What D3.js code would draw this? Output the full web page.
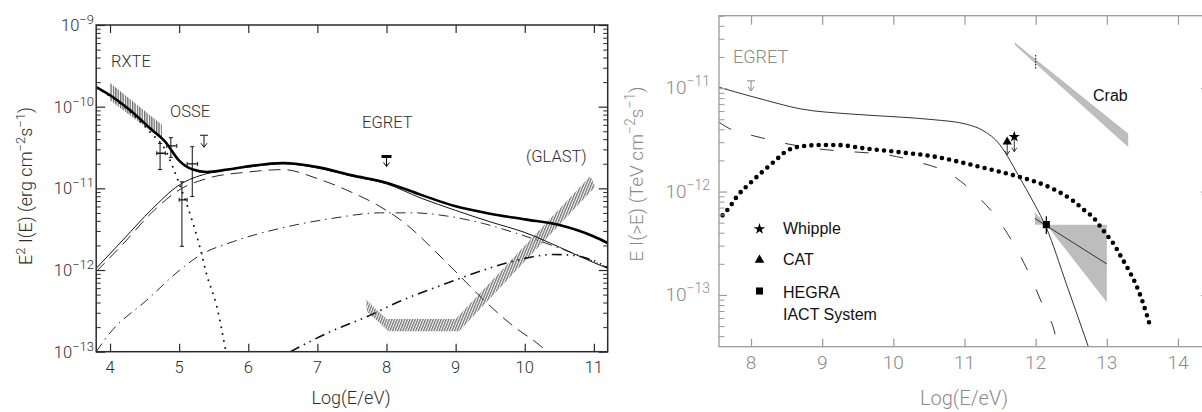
<!DOCTYPE html>
<html><head><meta charset="utf-8">
<script src="https://cdn.jsdelivr.net/npm/d3@7"></script>
<style>
body{margin:0;background:#fff;}
svg{display:block;}
</style></head><body>
<svg id="c" width="1202" height="412"></svg>
<script>
// ---------------- LEFT PANEL DATA (log10 of E^2 I(E), erg cm^-2 s^-1) ----------------
const leftXTicks = [4,5,6,7,8,9,10,11];
const leftYDecades = [-13,-12,-11,-10,-9];

const thickX = [3.8,4.0,4.3,4.6,4.8,5.0,5.2,5.4,5.7,6.0,6.5,7.0,7.5,8.0,8.5,9.0,9.5,10.0,10.5,11.0,11.2];
const thickY = [-9.76,-9.86,-10.05,-10.28,-10.43,-10.66,-10.77,-10.80,-10.77,-10.73,-10.69,-10.74,-10.84,-10.93,-11.08,-11.22,-11.31,-11.38,-11.45,-11.59,-11.67];

const thinX = [3.8,4.2,4.6,5.0,5.4,5.7,6.0,6.5,7.0,7.5,8.0,8.5,9.0,9.5,10.0,10.5,11.0,11.2];
const thinY = [-11.98,-11.62,-11.26,-10.96,-10.82,-10.775,-10.74,-10.70,-10.75,-10.853,-10.945,-11.12,-11.27,-11.41,-11.54,-11.72,-11.91,-11.98];

const dashX = [3.8,4.2,4.6,5.0,5.4,6.0,6.5,7.0,7.5,7.86,8.3,8.68,9.07,9.46,9.84,10.17,10.33];
const dashY = [-12.02,-11.67,-11.30,-11.02,-10.88,-10.80,-10.77,-10.88,-11.05,-11.20,-11.45,-11.75,-12.08,-12.41,-12.69,-12.89,-13.0];

const dashDotX = [3.8,4.0,4.53,5.01,5.3,5.79,6.46,7.2,7.91,8.4,8.88,9.4,9.84,10.2,10.56,10.9,11.2];
const dashDotY = [-13.0,-12.77,-12.37,-12.0,-11.82,-11.65,-11.49,-11.37,-11.30,-11.30,-11.34,-11.43,-11.54,-11.64,-11.75,-11.86,-11.97];

const dashDotDotX = [6.61,7.2,7.72,8.2,8.78,9.3,9.84,10.1,10.4,10.7,10.95,11.2];
const dashDotDotY = [-13.0,-12.75,-12.57,-12.38,-12.19,-12.03,-11.89,-11.84,-11.81,-11.82,-11.87,-11.97];

const dotX = [3.8,4.0,4.3,4.6,4.8,4.9,5.0,5.1,5.3,5.4,5.545,5.67];
const dotY = [-9.77,-9.87,-10.07,-10.33,-10.53,-10.72,-10.94,-11.17,-11.72,-12.06,-12.45,-12.97];

const rxteX = [4.0,4.75];
const rxteLo = [-9.92,-10.40];
const rxteHi = [-9.71,-10.22];

const glastUpX = [7.70,8.0,9.0,10.95];
const glastUpY = [-12.36,-12.60,-12.60,-10.85];
const glastLoX = [7.72,8.03,9.05,11.02];
const glastLoY = [-12.51,-12.75,-12.75,-10.98];

const osseX = [4.724,4.88,5.19,5.04];
const osseY = [-10.57,-10.48,-10.70,-11.14];
const osseYlo = [-10.77,-10.62,-11.10,-11.71];
const osseYhi = [-10.45,-10.38,-10.49,-10.92];
const osseXlo = [4.676,4.82,5.115,5.0];
const osseXhi = [4.80,4.966,5.267,5.115];

const leftULX = [5.36,8.0];
const leftULY = [-10.35,-10.61];

const leftLabels = ["RXTE","OSSE","EGRET","(GLAST)"];

// ---------------- RIGHT PANEL DATA (log10 of E I(>E), TeV cm^-2 s^-1) ----------------
const rightXTicks = [8,9,10,11,12,13,14];
const rightYDecades = [-13,-12,-11];

const rSolidX = [7.54,8.22,8.69,9.39,10.09,10.56,11.03,11.26,11.5,11.64,11.73,11.87,11.99,12.15,12.43,12.74];
const rSolidY = [-10.99,-11.12,-11.20,-11.25,-11.28,-11.305,-11.35,-11.41,-11.55,-11.70,-11.81,-11.98,-12.13,-12.35,-12.89,-13.5];

const rDashX = [7.55,7.75,8.03,8.52,8.97,9.3,9.71,9.95,10.35,10.8,11.16,11.45,11.71,11.92,12.1,12.28,12.31];
const rDashY = [-11.33,-11.41,-11.46,-11.54,-11.59,-11.61,-11.63,-11.65,-11.715,-11.83,-12.03,-12.25,-12.53,-12.81,-13.1,-13.4,-13.5];

const rDotX = [7.6,7.7,7.8,8.0,8.31,8.52,8.69,9.0,9.2,9.62,10.09,10.56,11.03,11.5,11.78,12.2,12.52,12.7,12.81,12.9,13.0,13.1,13.2,13.3,13.41,13.51,13.6];
const rDotY = [-12.23,-12.15,-12.05,-11.91,-11.72,-11.60,-11.565,-11.55,-11.55,-11.585,-11.62,-11.66,-11.73,-11.81,-11.86,-11.96,-12.086,-12.19,-12.25,-12.33,-12.42,-12.51,-12.63,-12.75,-12.90,-13.08,-13.28];

const hegraX = 12.15, hegraY = -12.32, hegraLo = -12.41, hegraHi = -12.24;
const bowX = [11.99,12.15,13.0,13.0,12.15,11.99];
const bowY = [-12.20,-12.32,-12.32,-13.07,-12.32,-12.32];
const fitX = [11.99,13.0];
const fitY = [-12.26,-12.70];

const whippleX = 11.70, whippleY = -11.47;
const catX = 11.60, catY = -11.52;

const crabX = [11.71,13.3,13.3,11.71];
const crabY = [-10.56,-11.44,-11.57,-10.585];
const crabErrX = 12.0, crabErrLo = -10.82, crabErrHi = -10.68;

const rEgretX = 8.0, rEgretY = -10.93;

const legendNames = ["Whipple","CAT","HEGRA","IACT System"];

// ---------------- DRAWING ----------------
const P = v => Math.pow(10, v);
const svg = d3.select('#c');
const defs = svg.append('defs');

const vh = defs.append('pattern').attr('id','vh').attr('patternUnits','userSpaceOnUse').attr('width',2.4).attr('height',6);
vh.append('line').attr('x1',0.7).attr('x2',0.7).attr('y1',0).attr('y2',6).attr('stroke','#222').attr('stroke-width',0.9);
const dh = defs.append('pattern').attr('id','dh').attr('patternUnits','userSpaceOnUse').attr('width',2.4).attr('height',6).attr('patternTransform','rotate(22)');
dh.append('line').attr('x1',0.7).attr('x2',0.7).attr('y1',0).attr('y2',6).attr('stroke','#333').attr('stroke-width',0.9);

const LF = 'Roboto, "DejaVu Sans", sans-serif';
const LW = 300;
const AF = '"Liberation Sans", Arial, sans-serif';

function lineGen(xs, ys, xs_, ysc){
  return d3.line().x(d=>xs_(d[0])).y(d=>ysc(P(d[1]))).curve(d3.curveMonotoneX)(xs.map((x,i)=>[x,ys[i]]));
}

// ===== LEFT =====
const xL = d3.scaleLinear().domain([3.8,11.2]).range([96.2,607.7]);
const yL = d3.scaleLog().domain([1e-13,1e-9]).range([351.7,25]);
const LC = '#2a2a2a';

defs.append('clipPath').attr('id','clipL').append('rect')
  .attr('x',xL(3.8)).attr('y',yL(1e-9)).attr('width',xL(11.2)-xL(3.8)).attr('height',yL(1e-13)-yL(1e-9));

const gL = svg.append('g');
const pL = gL.append('g').attr('clip-path','url(#clipL)');

const rxtePts = rxteX.map((x,i)=>[xL(x),yL(P(rxteHi[i]))]).concat(rxteX.slice().reverse().map((x,i)=>[xL(x),yL(P(rxteLo[rxteX.length-1-i]))]));
pL.append('path').attr('d','M'+rxtePts.join('L')+'Z').attr('fill','url(#vh)');
const glPts = glastUpX.map((x,i)=>[xL(x),yL(P(glastUpY[i]))]).concat(glastLoX.map((x,i)=>[xL(x),yL(P(glastLoY[i]))]).reverse());
pL.append('path').attr('d','M'+glPts.join('L')+'Z').attr('fill','url(#dh)');

pL.append('path').attr('d',lineGen(dashX,dashY,xL,yL)).attr('fill','none').attr('stroke',LC).attr('stroke-width',1).attr('stroke-dasharray','12 7');
pL.append('path').attr('d',lineGen(dashDotX,dashDotY,xL,yL)).attr('fill','none').attr('stroke',LC).attr('stroke-width',1).attr('stroke-dasharray','10 5 1.5 5');
pL.append('path').attr('d',lineGen(dashDotDotX,dashDotDotY,xL,yL)).attr('fill','none').attr('stroke','#111').attr('stroke-width',1.6).attr('stroke-dasharray','10 5 1.5 5 1.5 5');
pL.append('path').attr('d',lineGen(dotX,dotY,xL,yL)).attr('fill','none').attr('stroke','#111').attr('stroke-width',2).attr('stroke-linecap','round').attr('stroke-dasharray','0 7');
pL.append('path').attr('d',lineGen(thinX,thinY,xL,yL)).attr('fill','none').attr('stroke','#111').attr('stroke-width',1);
pL.append('path').attr('d',lineGen(thickX,thickY,xL,yL)).attr('fill','none').attr('stroke','#000').attr('stroke-width',2.6);

osseX.forEach((x,i)=>{
  const cx = xL(x), cy = yL(P(osseY[i]));
  const t = yL(P(osseYhi[i])), b = yL(P(osseYlo[i]));
  pL.append('line').attr('x1',cx).attr('x2',cx).attr('y1',t).attr('y2',b).attr('stroke','#111').attr('stroke-width',1);
  pL.append('line').attr('x1',cx-2).attr('x2',cx+2).attr('y1',t).attr('y2',t).attr('stroke','#111').attr('stroke-width',1);
  pL.append('line').attr('x1',cx-2).attr('x2',cx+2).attr('y1',b).attr('y2',b).attr('stroke','#111').attr('stroke-width',1);
  pL.append('line').attr('x1',xL(osseXlo[i])).attr('x2',xL(osseXhi[i])).attr('y1',cy).attr('y2',cy).attr('stroke','#111').attr('stroke-width',1.3);
  pL.append('line').attr('x1',xL(osseXlo[i])).attr('x2',xL(osseXlo[i])).attr('y1',cy-2).attr('y2',cy+2).attr('stroke','#111').attr('stroke-width',1);
  pL.append('line').attr('x1',xL(osseXhi[i])).attr('x2',xL(osseXhi[i])).attr('y1',cy-2).attr('y2',cy+2).attr('stroke','#111').attr('stroke-width',1);
});

function upperLimit(g, px, py, len, halfW, barW, color){
  g.append('line').attr('x1',px-halfW).attr('x2',px+halfW).attr('y1',py).attr('y2',py).attr('stroke',color).attr('stroke-width',barW);
  g.append('line').attr('x1',px).attr('x2',px).attr('y1',py).attr('y2',py+len).attr('stroke',color).attr('stroke-width',1);
  g.append('path').attr('d',`M${px-3},${py+len-4}L${px},${py+len}L${px+3},${py+len-4}`).attr('fill','none').attr('stroke',color).attr('stroke-width',1);
}
upperLimit(pL, xL(leftULX[0]), yL(P(leftULY[0])), 12, 4, 1.2, '#111');
upperLimit(pL, xL(leftULX[1]), yL(P(leftULY[1])), 10, 5, 3, '#000');

const lMinor = [];
for (let e=-13;e<-9;e++) for (let m=2;m<=9;m++) lMinor.push(m*P(e));
function styleAxis(g,color,w){ g.select('.domain').remove(); g.selectAll('line').attr('stroke',color).attr('stroke-width',w); g.selectAll('text').remove(); }
styleAxis(gL.append('g').attr('transform',`translate(0,${yL(1e-13)})`).call(d3.axisBottom(xL).tickValues(leftXTicks).tickSize(-8)),LC,1.2);
styleAxis(gL.append('g').attr('transform',`translate(0,${yL(1e-9)})`).call(d3.axisTop(xL).tickValues(leftXTicks).tickSize(-8)),LC,1.2);
styleAxis(gL.append('g').attr('transform',`translate(${xL(3.8)},0)`).call(d3.axisLeft(yL).tickValues(leftYDecades.map(P)).tickSize(-9)),LC,1.2);
styleAxis(gL.append('g').attr('transform',`translate(${xL(3.8)},0)`).call(d3.axisLeft(yL).tickValues(lMinor).tickSize(-4.5)),LC,1);
styleAxis(gL.append('g').attr('transform',`translate(${xL(11.2)},0)`).call(d3.axisRight(yL).tickValues(leftYDecades.map(P)).tickSize(-9)),LC,1.2);
styleAxis(gL.append('g').attr('transform',`translate(${xL(11.2)},0)`).call(d3.axisRight(yL).tickValues(lMinor).tickSize(-4.5)),LC,1);
gL.append('rect').attr('x',xL(3.8)).attr('y',yL(1e-9)).attr('width',xL(11.2)-xL(3.8)).attr('height',yL(1e-13)-yL(1e-9)).attr('fill','none').attr('stroke',LC).attr('stroke-width',1.5);

const LT = '#2e2e2e';
leftXTicks.forEach(t=>{
  gL.append('text').attr('x',xL(t)).attr('y',373).attr('text-anchor','middle').attr('font-family',LF).attr('font-weight',LW).attr('font-size',16.5).attr('fill',LT).text(t);
});
leftYDecades.forEach(e=>{
  const t = gL.append('text').attr('x',94).attr('y',yL(P(e))+6).attr('text-anchor','end').attr('font-family',LF).attr('font-weight',LW).attr('fill',LT);
  t.append('tspan').attr('font-size',16.5).text('10');
  t.append('tspan').attr('font-size',13).attr('dy',-7).text('\u2212'+Math.abs(e));
});
gL.append('text').attr('x',351).attr('y',404).attr('text-anchor','middle').attr('font-family',LF).attr('font-weight',LW).attr('font-size',18).attr('fill',LT).text('Log(E/eV)');
{
  const t = gL.append('text').attr('transform','translate(32,186) rotate(-90)').attr('text-anchor','middle').attr('font-family',LF).attr('font-weight',LW).attr('font-size',18).attr('fill',LT);
  t.append('tspan').text('E');
  t.append('tspan').attr('font-size',13).attr('dy',-7).text('2');
  t.append('tspan').attr('dy',7).text(' I(E) (erg cm');
  t.append('tspan').attr('font-size',13).attr('dy',-7).text('\u22122');
  t.append('tspan').attr('dy',7).text('s');
  t.append('tspan').attr('font-size',13).attr('dy',-7).text('\u22121');
  t.append('tspan').attr('dy',7).text(')');
}
const lLabPos = [[111,66.5],[170,116.5],[362,128.3],[526,161.5]];
leftLabels.forEach((s,i)=>{
  gL.append('text').attr('x',lLabPos[i][0]).attr('y',lLabPos[i][1]).attr('font-family',LF).attr('font-weight',LW).attr('font-size',16.5).attr('fill',LT).text(s);
});

// ===== RIGHT =====
const xR = d3.scaleLinear().domain([7.55,14.45]).range([719,1210]);
const yR = d3.scaleLog().domain([P(-13.5),P(-10.3)]).range([346.7,15.7]);
const RC = '#9a9a9a';
const RT = '#8a8a8a';
const DC = '#333';

defs.append('clipPath').attr('id','clipR').append('rect')
  .attr('x',xR(7.55)).attr('y',yR(P(-10.3))).attr('width',xR(14.45)-xR(7.55)).attr('height',yR(P(-13.5))-yR(P(-10.3)));
const gR = svg.append('g');
const pR = gR.append('g').attr('clip-path','url(#clipR)');

const poly = (xs,ys)=>'M'+xs.map((x,i)=>[xR(x),yR(P(ys[i]))]).join('L')+'Z';
pR.append('path').attr('d',poly(crabX,crabY)).attr('fill','#bdbdbd');
pR.append('path').attr('d',poly(bowX,bowY)).attr('fill','#bdbdbd');
pR.append('path').attr('d',lineGen(fitX,fitY,xR,yR)).attr('fill','none').attr('stroke',DC).attr('stroke-width',1);

pR.append('path').attr('d',lineGen(rDashX,rDashY,xR,yR)).attr('fill','none').attr('stroke',DC).attr('stroke-width',1).attr('stroke-dasharray','14 21');
pR.append('path').attr('d',lineGen(rSolidX,rSolidY,xR,yR)).attr('fill','none').attr('stroke',DC).attr('stroke-width',1);
pR.append('path').attr('d',lineGen(rDotX,rDotY,xR,yR)).attr('fill','none').attr('stroke','#000').attr('stroke-width',4.6).attr('stroke-linecap','round').attr('stroke-dasharray','0 7.3');

pR.append('line').attr('x1',xR(crabErrX)).attr('x2',xR(crabErrX)).attr('y1',yR(P(crabErrHi))).attr('y2',yR(P(crabErrLo))).attr('stroke','#222').attr('stroke-width',1.2).attr('stroke-dasharray','1.5 1.5');

{
  const hx = xR(hegraX), hy = yR(P(hegraY));
  pR.append('line').attr('x1',hx).attr('x2',hx).attr('y1',yR(P(hegraHi))).attr('y2',yR(P(hegraLo))).attr('stroke','#000').attr('stroke-width',1.2);
  pR.append('path').attr('transform',`translate(${hx},${hy})`).attr('d',d3.symbol(d3.symbolSquare).size(50)()).attr('fill','#000');
}
function arrowDown(g,px,py,len,color){
  g.append('line').attr('x1',px).attr('x2',px).attr('y1',py).attr('y2',py+len).attr('stroke',color).attr('stroke-width',1);
  g.append('path').attr('d',`M${px-2.5},${py+len-4}L${px},${py+len}L${px+2.5},${py+len-4}`).attr('fill','none').attr('stroke',color).attr('stroke-width',1);
}
{
  const wx = xR(whippleX), wy = yR(P(whippleY));
  arrowDown(pR,wx,wy,15,'#333');
  pR.append('path').attr('transform',`translate(${wx},${wy})`).attr('d',d3.symbol(d3.symbolStar).size(40)()).attr('fill','#000');
  const cx = xR(catX), cy = yR(P(catY));
  arrowDown(pR,cx,cy,13,'#333');
  pR.append('path').attr('transform',`translate(${cx},${cy})`).attr('d',d3.symbol(d3.symbolTriangle).size(38)()).attr('fill','#000');
}
upperLimit(pR, xR(rEgretX), yR(P(rEgretY)), 10, 4, 1, '#888');

const rMinor = [];
for (let e=-14;e<-10;e++) for (let m=2;m<=9;m++){ const v=m*P(e); if (v>P(-13.5) && v<P(-10.3)) rMinor.push(v); }
styleAxis(gR.append('g').attr('transform',`translate(0,${yR(P(-13.5))})`).call(d3.axisBottom(xR).tickValues(rightXTicks).tickSize(-8)),RC,1.2);
styleAxis(gR.append('g').attr('transform',`translate(0,${yR(P(-10.3))})`).call(d3.axisTop(xR).tickValues(rightXTicks).tickSize(-9)),RC,1.2);
styleAxis(gR.append('g').attr('transform',`translate(${xR(7.55)},0)`).call(d3.axisLeft(yR).tickValues(rightYDecades.map(P)).tickSize(-8)),RC,1.2);
styleAxis(gR.append('g').attr('transform',`translate(${xR(7.55)},0)`).call(d3.axisLeft(yR).tickValues(rMinor).tickSize(-5.5)),RC,1);
styleAxis(gR.append('g').attr('transform',`translate(${xR(14.45)},0)`).call(d3.axisRight(yR).tickValues(rightYDecades.map(P)).tickSize(-9)),RC,1.2);
gR.append('rect').attr('x',xR(7.55)).attr('y',yR(P(-10.3))).attr('width',xR(14.45)-xR(7.55)).attr('height',yR(P(-13.5))-yR(P(-10.3))).attr('fill','none').attr('stroke',RC).attr('stroke-width',1.3);

rightXTicks.forEach(t=>{
  gR.append('text').attr('x',xR(t)).attr('y',369).attr('text-anchor','middle').attr('font-family',LF).attr('font-weight',LW).attr('font-size',19).attr('fill',RT).text(t);
});
rightYDecades.forEach(e=>{
  const t = gR.append('text').attr('x',710).attr('y',yR(P(e))+6).attr('text-anchor','end').attr('font-family',LF).attr('font-weight',LW).attr('fill',RT);
  t.append('tspan').attr('font-size',19).text('10');
  t.append('tspan').attr('font-size',14).attr('dy',-8).text('\u2212'+Math.abs(e));
});
gR.append('text').attr('x',964).attr('y',405).attr('text-anchor','middle').attr('font-family',LF).attr('font-weight',LW).attr('font-size',20).attr('fill',RT).text('Log(E/eV)');
{
  const t = gR.append('text').attr('transform','translate(643,174) rotate(-90)').attr('text-anchor','middle').attr('font-family',LF).attr('font-weight',LW).attr('font-size',19).attr('fill',RT);
  t.append('tspan').text('E I(>E) (TeV cm');
  t.append('tspan').attr('font-size',14).attr('dy',-8).text('\u22122');
  t.append('tspan').attr('dy',8).text('s');
  t.append('tspan').attr('font-size',14).attr('dy',-8).text('\u22121');
  t.append('tspan').attr('dy',8).text(')');
}
gR.append('text').attr('x',733).attr('y',63).attr('font-family',LF).attr('font-weight',LW).attr('font-size',18).attr('fill',RT).text('EGRET');
gR.append('text').attr('x',1093).attr('y',101).attr('font-family',AF).attr('font-size',16).attr('fill','#111').text('Crab');

const legSym = [d3.symbolStar, d3.symbolTriangle, d3.symbolSquare];
const legY = [229,260,291];
legSym.forEach((s,i)=>{
  gR.append('path').attr('transform',`translate(759.5,${legY[i]})`).attr('d',d3.symbol(s).size(i===2?50:40)()).attr('fill','#000');
});
const legTextY = [233.5,265,297.5,319.5];
legendNames.forEach((n,i)=>{
  gR.append('text').attr('x',783).attr('y',legTextY[i]).attr('font-family',AF).attr('font-size',16).attr('fill','#111').text(n);
});
</script>
</body></html>
